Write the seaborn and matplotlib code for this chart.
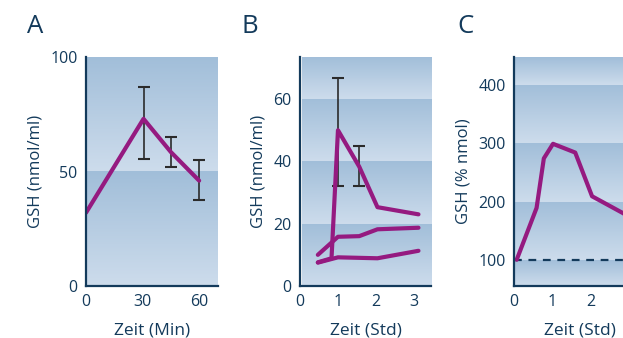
import numpy as np
import matplotlib
matplotlib.use("Agg")
import matplotlib.pyplot as plt
from matplotlib.colors import LinearSegmentedColormap
import seaborn as sns

sns.set_style("white")
plt.rcParams['font.family'] = ['Open Sans', 'DejaVu Sans']

# ---------------- data ----------------
# Panel A
a_time = [0, 30.5, 45, 60]
a_gsh = [32, 73, 58.5, 46]
a_err_x = [30.5, 45, 60]
a_err_mid = [73, 58.5, 46]
a_err_lo = [55.5, 52, 37.5]
a_err_hi = [87, 65, 55]
a_xticks = [0, 30, 60]
a_yticks = [0, 50, 100]

# Panel B (three series)
b_time_1 = [0.47, 0.83, 1.0, 1.56, 2.04, 3.12]
b_gsh_1 = [7.6, 8.9, 50, 38.3, 25.3, 23]
b_time_2 = [0.47, 1.0, 1.56, 2.04, 3.12]
b_gsh_2 = [10.0, 15.8, 16.0, 18.2, 18.7]
b_time_3 = [0.47, 1.0, 2.04, 3.12]
b_gsh_3 = [7.5, 9.2, 8.9, 11.3]
b_err_x = [1.0, 1.56]
b_err_mid = [50, 38.3]
b_err_lo = [32.2, 32.2]
b_err_hi = [66.8, 45]
b_xticks = [0, 1, 2, 3]
b_yticks = [0, 20, 40, 60]

# Panel C
c_time = [0.07, 0.59, 0.78, 1.02, 1.6, 2.04, 2.85, 3.05]
c_gsh = [100, 189, 274, 299, 284, 209, 180, 172]
c_baseline = 100
c_xticks = [0, 1, 2]
c_yticks = [100, 200, 300, 400]

# ---------------- style ----------------
NAVY = "#133a5b"
PURPLE = "#951a80"
ERR = "#2b2b2b"
band_cmap = LinearSegmentedColormap.from_list("band", ["#cddcec", "#a1bed9"])

W, H = 623, 338
fig = plt.figure(figsize=(W / 100, H / 100), dpi=100)


def px_axes(left, right, top=57, bottom=286):
    return fig.add_axes([left / W, 1 - bottom / H, (right - left) / W, (bottom - top) / H])


def draw_bands(ax, edges, xlim):
    grad = np.linspace(0, 1, 256).reshape(-1, 1)
    for lo, hi in zip(edges[:-1], edges[1:]):
        ax.imshow(grad, extent=(xlim[0], xlim[1], lo, hi), origin="lower",
                  cmap=band_cmap, aspect="auto", zorder=0, interpolation="bicubic")


def style_axes(ax, xlim, ylim, xticks, yticks):
    ax.set_xlim(*xlim)
    ax.set_ylim(*ylim)
    ax.set_xticks(xticks)
    ax.set_yticks(yticks)
    ax.set_xticklabels([str(t) for t in xticks])
    ax.set_yticklabels([str(t) for t in yticks])
    for s in ["top", "right"]:
        ax.spines[s].set_visible(False)
    for s in ["left", "bottom"]:
        ax.spines[s].set_color(NAVY)
        ax.spines[s].set_linewidth(1.6)
        ax.spines[s].set_zorder(5)
    ax.tick_params(axis="x", direction="in", length=8, width=1.6, color=NAVY,
                   labelcolor=NAVY, labelsize=11.5, pad=6)
    ax.tick_params(axis="y", length=0, labelcolor=NAVY, labelsize=11.5, pad=6)
    ax.grid(False)


def labels(ax, xl, yl):
    ax.set_xlabel(xl, color=NAVY, fontsize=12.5, labelpad=9)
    ax.set_ylabel(yl, color=NAVY, fontsize=12, labelpad=5)


# ---------------- Panel A ----------------
axA = px_axes(86, 218)
xlimA, ylimA = (0, 70), (0, 100)
draw_bands(axA, [0, 50, 100], xlimA)
sns.lineplot(x=a_time, y=a_gsh, ax=axA, color=PURPLE, lw=3.0, sort=False,
             estimator=None, zorder=3)
axA.errorbar(a_err_x, a_err_mid,
             yerr=[np.subtract(a_err_mid, a_err_lo), np.subtract(a_err_hi, a_err_mid)],
             fmt="none", ecolor=ERR, elinewidth=1.2, capsize=4, capthick=1.5, zorder=2)
style_axes(axA, xlimA, ylimA, a_xticks, a_yticks)
labels(axA, "Zeit (Min)", "GSH (nmol/ml)")

# ---------------- Panel B ----------------
axB = px_axes(300, 431)
xlimB, ylimB = (0.05, 3.45), (0, 73.5)
draw_bands(axB, [0, 20, 40, 60, 73.5], xlimB)
for t, g in [(b_time_1, b_gsh_1), (b_time_2, b_gsh_2), (b_time_3, b_gsh_3)]:
    sns.lineplot(x=t, y=g, ax=axB, color=PURPLE, lw=3.0, sort=False,
                 estimator=None, zorder=3)
axB.errorbar(b_err_x, b_err_mid,
             yerr=[np.subtract(b_err_mid, b_err_lo), np.subtract(b_err_hi, b_err_mid)],
             fmt="none", ecolor=ERR, elinewidth=1.2, capsize=4, capthick=1.5, zorder=2)
style_axes(axB, xlimB, ylimB, b_xticks, b_yticks)
labels(axB, "Zeit (Std)", "GSH (nmol/ml)")

# ---------------- Panel C ----------------
axC = px_axes(514, 646)
xlimC, ylimC = (0.02, 3.45), (55, 448)
draw_bands(axC, [55, 100, 200, 300, 400, 448], xlimC)
axC.axhline(c_baseline, color=NAVY, lw=1.6, ls=(0, (3.5, 3)), zorder=2)
sns.lineplot(x=c_time, y=c_gsh, ax=axC, color=PURPLE, lw=3.0, sort=False,
             estimator=None, zorder=3)
style_axes(axC, xlimC, ylimC, c_xticks, c_yticks)
labels(axC, "Zeit (Std)", "GSH (% nmol)")

# panel letters
for letter, x in [("A", 27), ("B", 242), ("C", 457)]:
    fig.text(x / W, 1 - 33 / H, letter, color=NAVY, fontsize=18.5,
             ha="left", va="baseline")

fig.savefig("out.png", dpi=100)
